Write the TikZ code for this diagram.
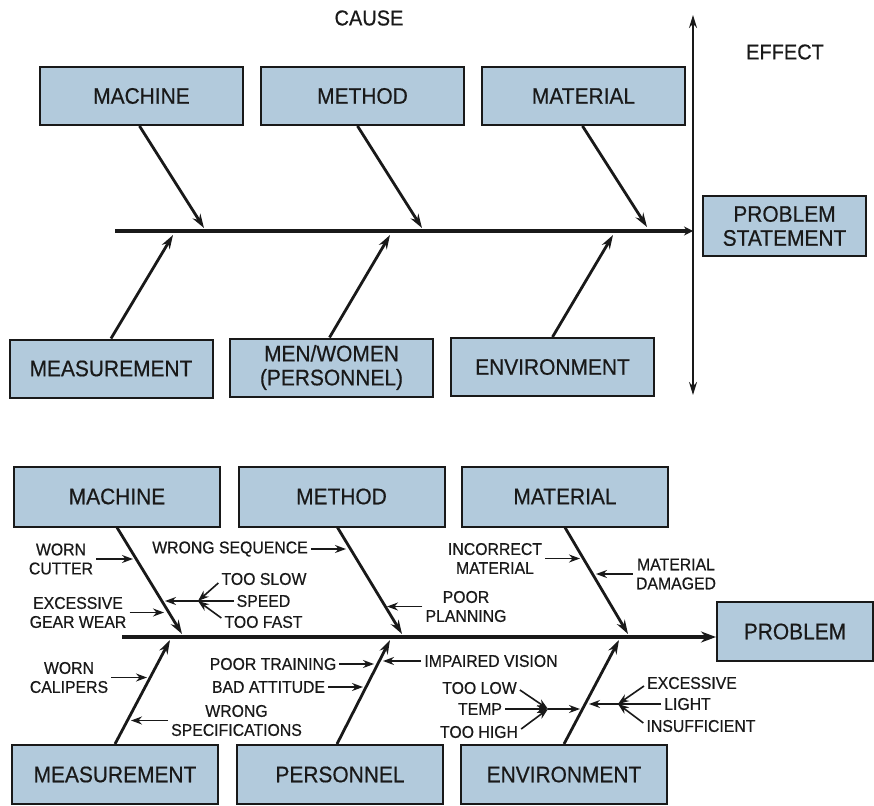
\documentclass[tikz,border=0pt]{standalone}
\usepackage{fontspec}
\setmainfont{Liberation Sans}
\newfontfamily\chartfont{Liberation Sans}[FakeStretch=0.93, FakeBold=0.5]
\usetikzlibrary{arrows.meta,calc}
\definecolor{boxblue}{RGB}{178,202,220}
\definecolor{ink}{RGB}{25,25,25}
\begin{document}
\begin{tikzpicture}[x=1pt,y=-1pt,
  cat/.style={draw=ink, line width=2pt, fill=boxblue, inner sep=0pt,
    font=\chartfont\fontsize{22.5}{24}\selectfont, text=ink, align=center},
  topbox/.style={minimum width=203pt, minimum height=58pt},
  botbox/.style={minimum width=206pt, minimum height=60pt},
  headlbl/.style={font=\chartfont\fontsize{21.5}{24}\selectfont, text=ink},
  lbl/.style={font=\chartfont\fontsize{17}{19}\selectfont, inner sep=3pt, align=center, text=ink},
  bone/.style={draw=ink, line width=2.8pt, -{Stealth[length=14pt,width=9pt]}},
  spineline/.style={draw=ink, line width=3.8pt},
  axisline/.style={draw=ink, line width=1.8pt},
  twig/.style={draw=ink, line width=1.6pt, -{Stealth[length=11pt,width=8pt]}}
]
\useasboundingbox (0,0) rectangle (874,805);
\fill[white] (0,0) rectangle (874,805);

% ---------- upper chart: generic cause and effect ----------
\node[headlbl] (cause) at (369,18) {CAUSE};
\node[headlbl] (effect) at (785,52) {EFFECT};

\node[cat,topbox] (ma1) at (141.5,96) {MACHINE};
\node[cat,topbox] (me1) at (362.5,96) {METHOD};
\node[cat,topbox] (mt1) at (583.5,96) {MATERIAL};
\node[cat,topbox] (ms1) at (111,368.5) {MEASUREMENT};
\node[cat,topbox] (pe1) at (331.5,367.5) {MEN/WOMEN\\(PERSONNEL)};
\node[cat,topbox] (en1) at (552.5,367) {ENVIRONMENT};
\node[cat, minimum width=163pt, minimum height=60pt] (ps1) at (784.5,226) {PROBLEM\\STATEMENT};

\coordinate (efftop) at (693,15);
\coordinate (effbot) at (693,395);
\coordinate (sp1s) at (115,231);
\coordinate (sp1e) at (693,231);
\coordinate (t1a) at (204,228);
\coordinate (t1b) at (422,228);
\coordinate (t1c) at (647,227);
\coordinate (t1d) at (173,235);
\coordinate (t1e) at (390,235);
\coordinate (t1f) at (613,235);

\draw[axisline, {Stealth[length=13pt,width=8pt]}-{Stealth[length=13pt,width=8pt]}] (effbot) -- (efftop);
\draw[spineline, -{Stealth[length=9pt,width=9pt]}] (sp1s) -- (sp1e);
\draw[bone] ([xshift=-2pt]ma1.south) -- (t1a);
\draw[bone] ([xshift=-5pt]me1.south) -- (t1b);
\draw[bone] ([xshift=-1pt]mt1.south) -- (t1c);
\draw[bone] (ms1.north) -- (t1d);
\draw[bone] ([xshift=-2pt]pe1.north) -- (t1e);
\draw[bone] (en1.north) -- (t1f);

% ---------- lower chart: worked example ----------
\node[cat,botbox] (ma2) at (117,496.5) {MACHINE};
\node[cat,botbox] (me2) at (341.5,496.5) {METHOD};
\node[cat,botbox] (mt2) at (565,496.5) {MATERIAL};
\node[cat,botbox, minimum height=59pt] (ms2) at (115,774.5) {MEASUREMENT};
\node[cat,botbox, minimum height=59pt] (pe2) at (340,774.5) {PERSONNEL};
\node[cat,botbox, minimum height=59pt] (en2) at (564,774.5) {ENVIRONMENT};
\node[cat, minimum width=156pt, minimum height=59pt] (pr2) at (795,631.5) {PROBLEM};

\coordinate (sp2s) at (122,637);
\coordinate (t2a) at (182,634);
\coordinate (t2b) at (402,634);
\coordinate (t2c) at (628,634);
\coordinate (t2d) at (170,640);
\coordinate (t2e) at (390,640);
\coordinate (t2f) at (619,640);

\draw[spineline, -{Stealth[length=15pt,width=11pt]}] (sp2s) -- (sp2s -| pr2.west);
\draw[bone] (ma2.south) -- (t2a);
\draw[bone] ([xshift=-4pt]me2.south) -- (t2b);
\draw[bone] (mt2.south) -- (t2c);
\draw[bone] (ms2.north) -- (t2d);
\draw[bone] ([xshift=-3pt]pe2.north) -- (t2e);
\draw[bone] (en2.north) -- (t2f);

% machine causes
\node[lbl] (wc) at (61,559) {WORN\\CUTTER};
\node[lbl] (eg) at (78,612.5) {EXCESSIVE\\GEAR WEAR};
\node[lbl] (slow) at (264,579) {TOO SLOW};
\node[lbl] (speed) at (263.5,601) {SPEED};
\node[lbl] (fast) at (263.5,622) {TOO FAST};
\coordinate (wcT) at (133,559);
\coordinate (egT) at (164,612.5);
\coordinate (spJ) at (198,601);
\coordinate (spT) at (165,601);
\draw[twig] (wc.east) -- (wcT);
\draw[twig] (eg.east) -- (egT);
\draw[twig] (speed.west) -- (spT);
\draw[twig] ([yshift=-4pt]slow.west) -- (spJ);
\draw[twig] ([yshift=4pt]fast.west) -- (spJ);

% method causes
\node[lbl] (ws) at (230,549) {WRONG SEQUENCE};
\node[lbl] (pp) at (466,606.5) {POOR\\PLANNING};
\coordinate (wsT) at (346,549);
\coordinate (ppT) at (387,606.5);
\draw[twig] (ws.east) -- (wsT);
\draw[twig] (pp.west) -- (ppT);

% material causes
\node[lbl] (im) at (495,558.5) {INCORRECT\\MATERIAL};
\node[lbl] (md) at (676,574) {MATERIAL\\DAMAGED};
\coordinate (imT) at (580,558.5);
\coordinate (mdT) at (596,574);
\draw[twig] (im.east) -- (imT);
\draw[twig] (md.west) -- (mdT);

% measurement causes
\node[lbl] (wcal) at (69,677.5) {WORN\\CALIPERS};
\node[lbl] (wsp) at (236.5,720.5) {WRONG\\SPECIFICATIONS};
\coordinate (wcalT) at (147,677.5);
\coordinate (wspT) at (131,720.5);
\draw[twig] (wcal.east) -- (wcalT);
\draw[twig] (wsp.west) -- (wspT);

% personnel causes
\node[lbl] (ptr) at (273,664) {POOR TRAINING};
\node[lbl] (ba) at (268.5,687) {BAD ATTITUDE};
\node[lbl] (iv) at (491,661) {IMPAIRED VISION};
\coordinate (ptrT) at (374,664);
\coordinate (baT) at (363,687);
\coordinate (ivT) at (383,661);
\draw[twig] (ptr.east) -- (ptrT);
\draw[twig] (ba.east) -- (baT);
\draw[twig] (iv.west) -- (ivT);

% environment causes
\node[lbl] (low) at (479.5,688) {TOO LOW};
\node[lbl] (temp) at (480,709) {TEMP};
\node[lbl] (high) at (479,732) {TOO HIGH};
\coordinate (tpJ) at (548,709);
\coordinate (tpT) at (580,709);
\draw[twig] (temp.east) -- (tpJ);
\draw[twig] (tpJ) -- (tpT);
\draw[twig] ([yshift=-2pt]low.east) -- (tpJ);
\draw[twig] ([yshift=3pt]high.east) -- (tpJ);

\node[lbl] (exc) at (692,683) {EXCESSIVE};
\node[lbl] (light) at (687.5,704) {LIGHT};
\node[lbl] (ins) at (701,726) {INSUFFICIENT};
\coordinate (ltJ) at (618,704);
\coordinate (ltT) at (589,704);
\draw[twig] (light.west) -- (ltT);
\draw[twig] ([yshift=-3pt]exc.west) -- (ltJ);
\draw[twig] ([yshift=3pt]ins.west) -- (ltJ);
\end{tikzpicture}
\end{document}
